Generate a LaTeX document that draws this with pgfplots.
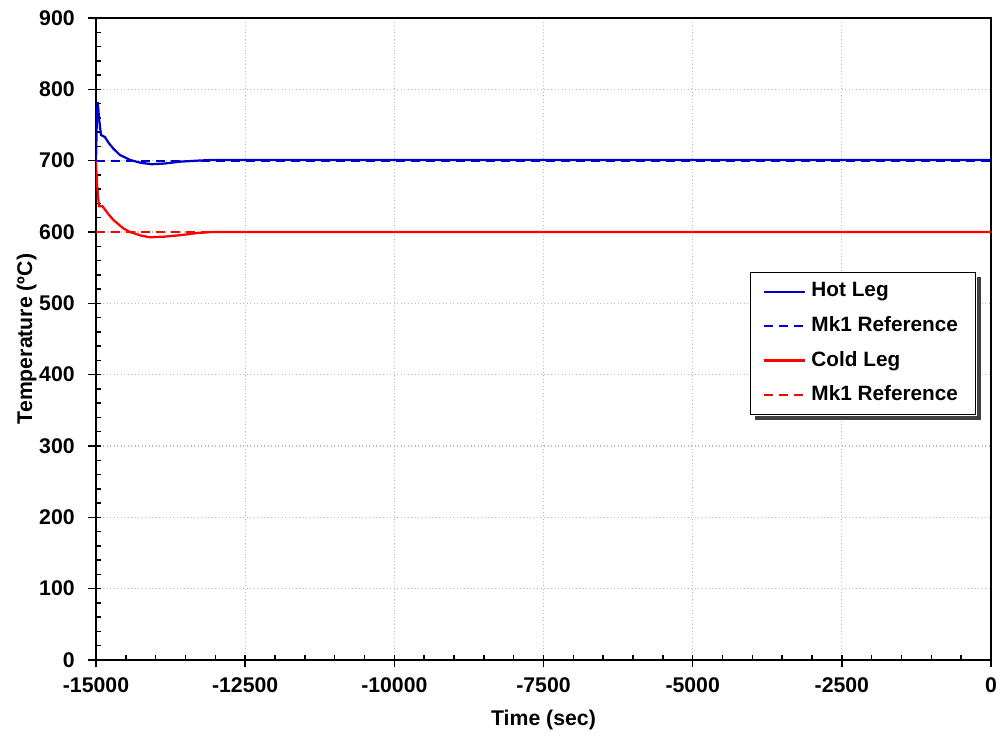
\documentclass[border=0pt]{standalone}
\usepackage{fontspec}
\setmainfont{Liberation Sans}
\usepackage{pgfplots}
\pgfplotsset{compat=1.18}
\definecolor{hotblue}{RGB}{0,0,204}
\definecolor{coldred}{RGB}{255,0,0}
\begin{document}
\begin{tikzpicture}
\begin{axis}[
  name=ax,
  scale only axis,
  width=358pt, height=256.8pt,
  xmin=-15000, xmax=0, ymin=0, ymax=900,
  xtick={-15000,-12500,-10000,-7500,-5000,-2500,0},
  ytick={0,100,...,900},
  minor x tick num=4, minor y tick num=4,
  scaled x ticks=false,
  /pgf/number format/1000 sep={},
  /pgf/number format/assume math mode=true,
  tick label style={font=\fontsize{8.5pt}{9pt}\selectfont\bfseries},
  label style={font=\fontsize{8.5pt}{10pt}\selectfont\bfseries},
  xlabel={Time (sec)}, ylabel={Temperature (ºC)},
  xlabel style={yshift=0pt}, ylabel style={yshift=-5.8pt},
  grid=major,
  major grid style={gray!55, densely dotted, line width=0.45pt},
  axis line style={line width=0.8pt},
  tick style={black, line width=0.6pt},
  tick align=inside,
  major tick length=5pt, minor tick length=2pt,
  major x tick style={yshift=-3pt},
  major y tick style={xshift=-3pt},
  xticklabel style={yshift=-3.5pt, inner xsep=0.5pt},
  yticklabel style={xshift=-5pt},
  tick pos=left,
  legend style={name=leg, at={(0.7307,0.6044)}, anchor=north west, draw=black, line width=0.6pt,
    font=\fontsize{8.3pt}{10pt}\selectfont\bfseries,
    fill=white, row sep=2.3pt, inner xsep=5pt, inner ysep=2pt},
  legend image code/.code={\draw[#1] (0cm,0cm) -- (16.4pt,0cm);},
  legend cell align=left,
]
\addplot[hotblue, line width=0.9pt] coordinates {
(-15000,700) (-14985,765) (-14970,782) (-14950,760) (-14916,736) (-14850,733) (-14780,724) (-14710,717) (-14600,708) (-14430,701) (-14250,697) (-14067,695) (-13850,696) (-13590,698.6) (-13300,700) (-13040,701) (-12500,701) (-10000,701) (0,701)};
\addlegendentry{Hot Leg}
\addplot[hotblue, dash pattern=on 3.5pt off 2.5pt, line width=0.9pt] coordinates {(-15000,700) (0,700)};
\addlegendentry{Mk1 Reference}
\addplot[coldred, line width=0.9pt] coordinates {
(-15000,700) (-14985,670) (-14950,636) (-14890,636) (-14800,626) (-14710,617) (-14540,605) (-14430,600) (-14250,595) (-14095,592.6) (-13850,593.5) (-13590,595.5) (-13300,598.5) (-13040,600) (-12500,600) (0,600)};
\addlegendentry{Cold Leg}
\addplot[coldred, dash pattern=on 3.5pt off 2.5pt, line width=0.9pt] coordinates {(-15000,600) (0,600)};
\addlegendentry{Mk1 Reference}
\end{axis}
\fill[black!75] ([shift={(0.3pt,-2pt)}]leg.north east) rectangle ([shift={(2pt,-2pt)}]leg.south east);
\fill[black!75] ([shift={(2pt,-0.3pt)}]leg.south west) rectangle ([shift={(2pt,-2pt)}]leg.south east);
\path ([shift={(-38.4pt,-29.6pt)}]ax.south west) rectangle ([shift={(3.6pt,7.2pt)}]ax.north east);
\end{tikzpicture}
\end{document}
